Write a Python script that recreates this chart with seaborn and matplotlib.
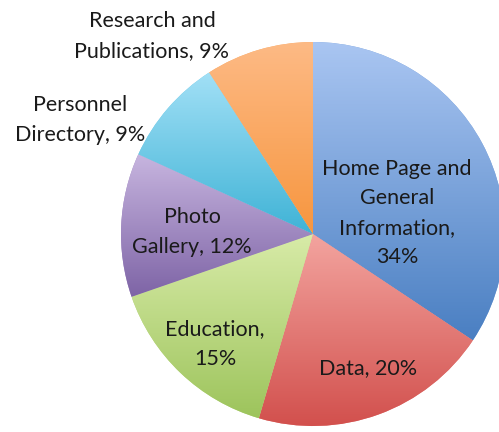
import numpy as np
import matplotlib
matplotlib.use("Agg")
import matplotlib.pyplot as plt
import seaborn as sns

# slice data (clockwise from 12 o'clock)
categories = ["Home Page and\nGeneral\nInformation,", "Data,", "Education,", "Photo\nGallery,",
              "Personnel\nDirectory,", "Research and\nPublications,"]
shares = [34, 20, 15, 12, 9, 9]
# how the percentage is joined to the name
joins = ["\n", " ", "\n", " ", " ", " "]

# gradient colours, light at the top of each slice, darker at the bottom
tops = ["#AAC6F2", "#F3A49F", "#D8EBA8", "#C7B5DF", "#A2E0F6", "#FDBA85"]
bottoms = ["#4A7FC2", "#D2504D", "#9DC45C", "#7E64A6", "#3FB3D6", "#F7963F"]

sns.set_theme(style="white")
plt.rcParams['font.family'] = ['Lato', 'DejaVu Sans']

W, H = 499, 432
fig = plt.figure(figsize=(W / 100, H / 100), dpi=100)
ax = fig.add_axes([0, 0, 1, 1])

cx, cy, R = 313, H - 234, 192
mids = [sns.blend_palette([t, b], 3)[1] for t, b in zip(tops, bottoms)]
wedges, _ = ax.pie(shares, radius=R, center=(cx, cy), startangle=90, counterclock=False,
                   colors=mids, wedgeprops=dict(linewidth=0))

grad = np.linspace(0, 1, 256).reshape(-1, 1)
for w, t, b in zip(wedges, tops, bottoms):
    bb = w.get_path().get_extents()
    cmap = sns.blend_palette([b, t], as_cmap=True)
    im = ax.imshow(grad, cmap=cmap, origin="lower", aspect="auto",
                   extent=[bb.x0, bb.x1, bb.y0, bb.y1], zorder=w.get_zorder() + 0.1)
    im.set_clip_path(w)

# label positions (pixel coords from top-left)
label_pos = [(397, 213), (368, 368), (215, 344), (192, 232), (80, 120), (152, 36)]
for name, v, j, (x, y) in zip(categories, shares, joins, label_pos):
    ax.text(x, H - y, f"{name}{j}{v}%", ha="center", va="center",
            fontsize=15.5, color="#1a1a1a", linespacing=1.6)

ax.set_xlim(0, W)
ax.set_ylim(0, H)
ax.set_aspect("equal")
ax.axis("off")
fig.savefig("out.png", dpi=100)
